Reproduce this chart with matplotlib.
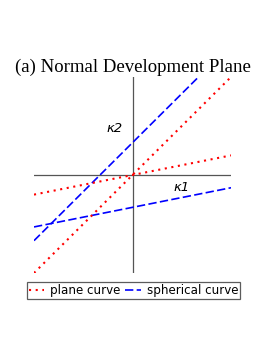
import matplotlib
matplotlib.use("Agg")
import matplotlib.pyplot as plt
import numpy as np

# data
x_range = [-1.0, 1.0]
plane_slopes = [1.0, 0.2]
plane_intercepts = [0.0, 0.0]
sph_slopes = [1.0, 0.2]
sph_intercepts = [0.33, -0.33]
title = "(a) Normal Development Plane"
series_labels = ["plane curve", "spherical curve"]
axis_labels = ["κ1", "κ2"]

fig = plt.figure(figsize=(2.74, 3.55), dpi=100)
ax = fig.add_axes([34/274, 1-273/355, 197/274, 196/355])
ax.set_xlim(-1, 1)
ax.set_ylim(-1, 1)
ax.axis("off")

ax.axhline(0, color="#555555", lw=0.9, zorder=1)
ax.axvline(0, color="#555555", lw=0.9, zorder=1)

x = np.array(x_range)
for i, (m, b) in enumerate(zip(plane_slopes, plane_intercepts)):
    ax.plot(x, m*x + b, color="red", lw=1.5, linestyle=(0, (1, 2.2)),
            label=series_labels[0] if i == 0 else None, zorder=3)
for i, (m, b) in enumerate(zip(sph_slopes, sph_intercepts)):
    ax.plot(x, m*x + b, color="blue", lw=1.2, linestyle=(0, (5, 2)),
            label=series_labels[1] if i == 0 else None, zorder=2)

ax.text(0.5, -0.13, axis_labels[0], fontsize=9.5, style="italic", ha="center", va="center",
        family="DejaVu Sans")
ax.text(-0.18, 0.47, axis_labels[1], fontsize=9.5, style="italic", ha="center", va="center",
        family="DejaVu Sans")

fig.text(133/274, 1-67/355, title, fontsize=13.5, ha="center", va="center",
         family="Liberation Serif")

leg = fig.legend(loc="center", bbox_to_anchor=(133.5/274, 1-290.5/355), ncol=2, fontsize=8.6,
                 frameon=True, fancybox=False, handlelength=1.3, handletextpad=0.5,
                 columnspacing=0.4, borderpad=0.15, borderaxespad=0)
leg.get_frame().set_edgecolor("#333333")
leg.get_frame().set_linewidth(0.9)

fig.savefig("out.png", dpi=100)
